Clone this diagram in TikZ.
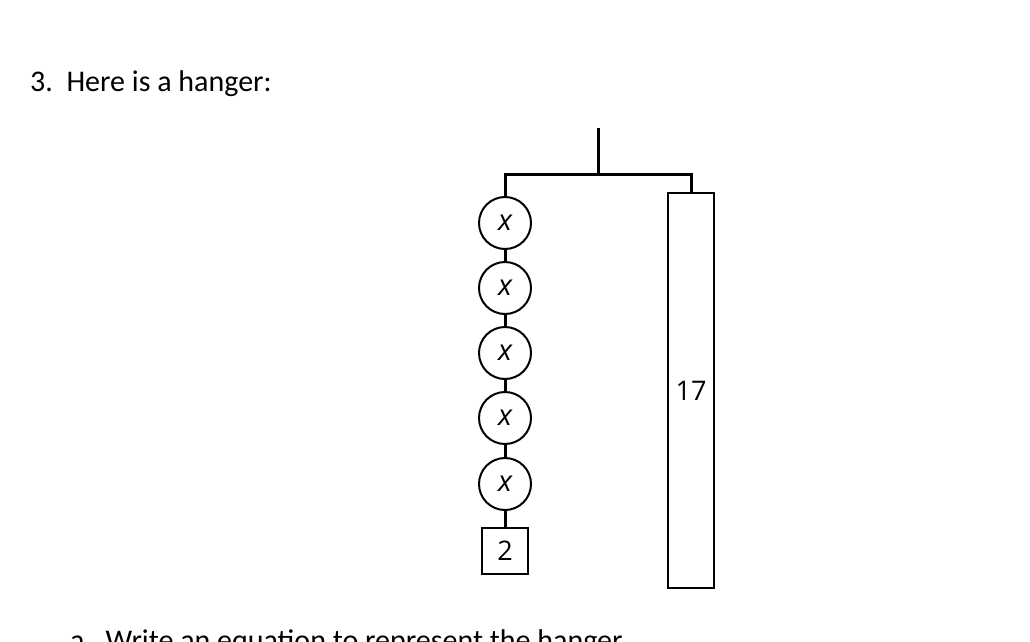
\documentclass[tikz,border=0pt]{standalone}
\usepackage{fontspec}
\setmainfont{Carlito}
\newfontfamily\diagfont{Open Sans}
\begin{document}
\begin{tikzpicture}[x=1pt,y=-1pt,
  bar/.style={line width=3pt},
  wt/.style={circle,draw,line width=2pt,minimum size=52pt,inner sep=0pt,font=\diagfont\fontsize{29}{32}\selectfont\itshape},
  sq/.style={rectangle,draw,line width=2pt,minimum size=46pt,inner sep=0pt,font=\diagfont\fontsize{27}{30}\selectfont},
  tall/.style={rectangle,draw,line width=2pt,minimum width=46pt,minimum height=395pt,inner sep=0pt,font=\diagfont\fontsize{27}{30}\selectfont},
  txt/.style={anchor=base west,inner sep=0pt,font=\fontsize{30}{36}\selectfont}]
\useasboundingbox (0,0) rectangle (1030,642);
\clip (0,0) rectangle (1030,642);
\node[txt] (title) at (30,92) {3.\ \ Here is a hanger:};
\node[txt] (qa) at (70,650) {a.\ \ Write an equation to represent the hanger.};
\coordinate (top) at (598,128);
\coordinate (hub) at (598,174);
\coordinate (lc) at (505,174);
\coordinate (rc) at (691,174);
\node[wt] (x1) at (505,223) {x};
\node[wt] (x2) at (505,288) {x};
\node[wt] (x3) at (505,353) {x};
\node[wt] (x4) at (505,418) {x};
\node[wt] (x5) at (505,484) {x};
\node[sq] (two) at (505,551) {2};
\node[tall] (big) at (691,390.5) {17};
\draw[bar] (top) -- (hub);
\draw[bar,line cap=rect] (lc) -- (rc);
\draw[bar] (lc) -- (x1.north);
\draw[bar] (rc) -- (big.north);
\draw[bar] (x1) -- (x2);
\draw[bar] (x2) -- (x3);
\draw[bar] (x3) -- (x4);
\draw[bar] (x4) -- (x5);
\draw[bar] (x5) -- (two);
\end{tikzpicture}
\end{document}
